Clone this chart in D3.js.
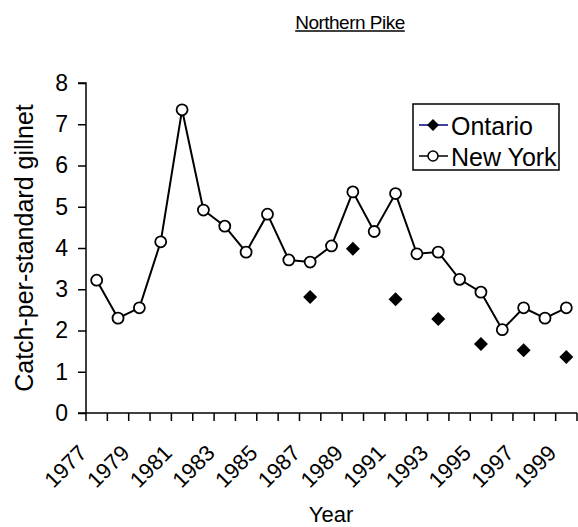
<!DOCTYPE html>
<html><head><meta charset="utf-8">
<script src="https://cdn.jsdelivr.net/npm/d3@7"></script>
<style>body{margin:0;background:#fff}svg text{font-family:"Liberation Sans",Arial,sans-serif;fill:#000}</style>
</head><body><svg id="c" width="578" height="527"></svg>
<script>
const years = d3.range(1977, 2000).map(String);
const newYork = [3.22, 2.3, 2.55, 4.15, 7.35, 4.92, 4.53, 3.9, 4.82, 3.71, 3.66, 4.05, 5.36, 4.4, 5.32, 3.86, 3.9, 3.24, 2.93, 2.02, 2.55, 2.3, 2.55];
const ontario = [null, null, null, null, null, null, null, null, null, null, 2.81, null, 3.98, null, 2.76, null, 2.28, null, 1.67, null, 1.52, null, 1.36];
const yTicks = [0,1,2,3,4,5,6,7,8];
const yearLabels = years.filter((d,i)=>i%2===0);

const svg = d3.select("#c");
const L=86, R=577, T=83, B=413;
const x = d3.scaleBand().domain(years).range([L,R]);
const y = d3.scaleLinear().domain([0,8]).range([B,T]);
const cx = d => x(d)+x.bandwidth()/2;

// title
const title = svg.append("text").attr("x",350).attr("y",29).attr("text-anchor","middle")
  .attr("font-size",19).attr("letter-spacing",-0.5).text("Northern Pike");
const tb = title.node().getBBox();
svg.append("line").attr("x1",tb.x).attr("x2",tb.x+tb.width).attr("y1",31).attr("y2",31).attr("stroke","#000").attr("stroke-width",1.5);

// y axis
const ya = svg.append("g").attr("transform",`translate(${L},0)`)
  .call(d3.axisLeft(y).tickValues(yTicks).tickSize(8).tickPadding(10).tickFormat(d3.format("d")));
ya.selectAll("path").attr("stroke","#000").attr("stroke-width",1.5).attr("d",`M-8,${T}H0V${B}`);
ya.selectAll("line").attr("stroke","#000").attr("stroke-width",1.5);
ya.selectAll("text").attr("font-size",23).attr("font-family","Liberation Sans, Arial, sans-serif");

// x axis
const xa = svg.append("g").attr("transform",`translate(0,${B})`);
xa.append("line").attr("x1",L-8).attr("x2",R).attr("stroke","#000").attr("stroke-width",1.5);
const bounds = years.map(d=>x(d)).concat([R]);
xa.selectAll("line.t").data(bounds).join("line").attr("class","t")
  .attr("x1",d=>d).attr("x2",d=>d).attr("y1",0).attr("y2",8).attr("stroke","#000").attr("stroke-width",1.5);
xa.selectAll("text.l").data(yearLabels).join("text").attr("class","l")
  .attr("transform",d=>`translate(${cx(d)-14},${36}) rotate(-45)`)
  .attr("text-anchor","end").attr("dy","0.35em").attr("font-size",22).text(d=>d);

// axis titles
svg.append("text").attr("x",331).attr("y",522).attr("text-anchor","middle").attr("font-size",22).text("Year");
svg.append("text").attr("transform",`translate(33,${(T+B)/2}) rotate(-90)`).attr("text-anchor","middle")
  .attr("font-size",25).text("Catch-per-standard gillnet");

// New York line + markers
const nyData = years.map((d,i)=>({yr:d,v:newYork[i]}));
svg.append("path").datum(nyData).attr("fill","none").attr("stroke","#000").attr("stroke-width",2)
  .attr("d",d3.line().x(d=>cx(d.yr)).y(d=>y(d.v)));
svg.selectAll("circle.ny").data(nyData).join("circle").attr("class","ny")
  .attr("cx",d=>cx(d.yr)).attr("cy",d=>y(d.v)).attr("r",5.5).attr("fill","#fff").attr("stroke","#000").attr("stroke-width",1.8);

// Ontario markers
const onData = years.map((d,i)=>({yr:d,v:ontario[i]})).filter(d=>d.v!==null);
svg.selectAll("path.on").data(onData).join("path").attr("class","on")
  .attr("transform",d=>`translate(${cx(d.yr)},${y(d.v)})`)
  .attr("d","M0,-7L7,0L0,7L-7,0Z").attr("fill","#000");

// legend
const lg = svg.append("g");
lg.append("rect").attr("x",413).attr("y",104).attr("width",146).attr("height",66).attr("fill","#fff").attr("stroke","#000").attr("stroke-width",1.5);
lg.append("line").attr("x1",419).attr("x2",448).attr("y1",125).attr("y2",125).attr("stroke","#000080").attr("stroke-width",1.5);
lg.append("path").attr("transform","translate(433,125)").attr("d","M0,-6L6,0L0,6L-6,0Z").attr("fill","#000");
lg.append("text").attr("x",451).attr("y",126).attr("dy","0.35em").attr("font-size",25).text("Ontario");
lg.append("line").attr("x1",419).attr("x2",448).attr("y1",156).attr("y2",156).attr("stroke","#000").attr("stroke-width",1.5);
lg.append("circle").attr("cx",433).attr("cy",156).attr("r",5).attr("fill","#fff").attr("stroke","#000").attr("stroke-width",1.5);
lg.append("text").attr("x",451).attr("y",157).attr("dy","0.35em").attr("font-size",25).text("New York");
</script></body></html>
